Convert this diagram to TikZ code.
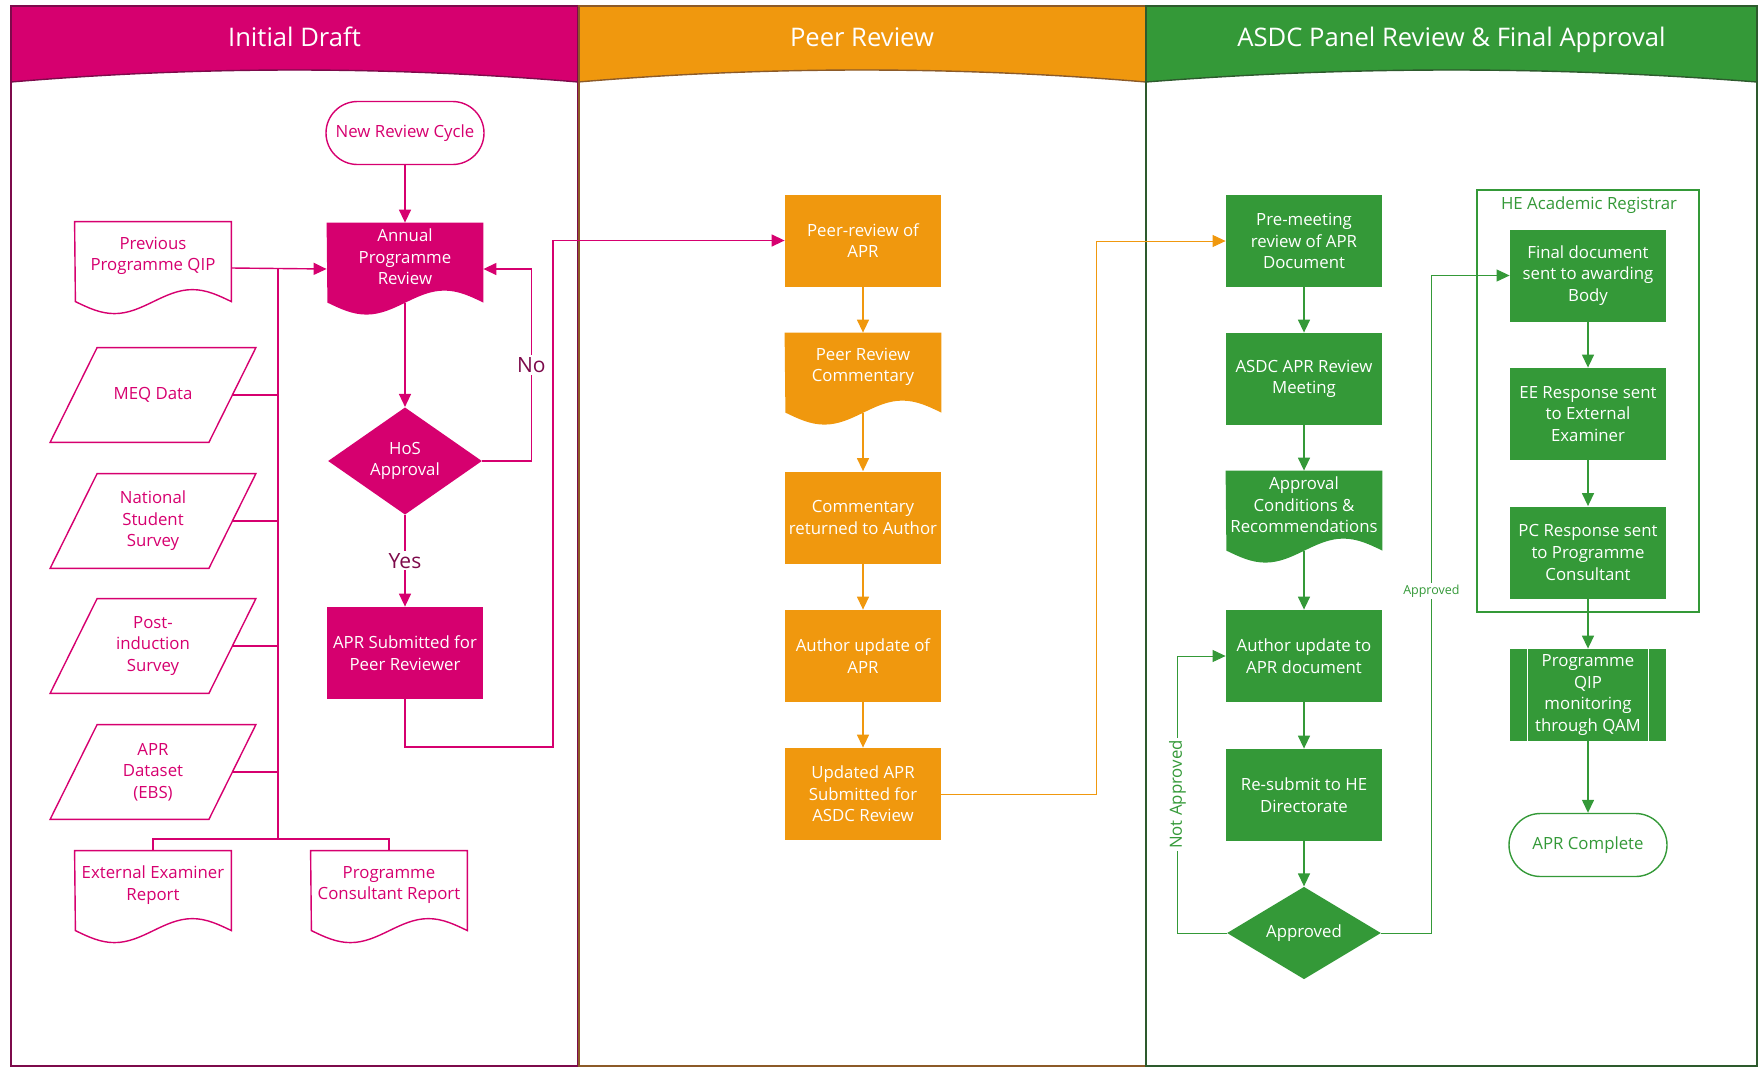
\documentclass[tikz,border=0pt]{standalone}
\usepackage{fontspec}
\setmainfont{Open Sans}
\usetikzlibrary{shapes.geometric,arrows.meta}
\pgfdeclarelayer{back}
\pgfsetlayers{back,main}
\definecolor{draftpink}{RGB}{214,0,111}
\definecolor{draftline}{RGB}{125,10,75}
\definecolor{peerorange}{RGB}{240,152,14}
\definecolor{peerline}{RGB}{140,90,40}
\definecolor{panelgreen}{RGB}{52,153,56}
\definecolor{panelline}{RGB}{45,90,45}
\newcommand{\docoutline}[2]{\path[#2] (#1.north west) -- (#1.north east) -- ++(0pt,-40pt) sin ++(-19.5pt,6pt) cos ++(-19.5pt,-6pt) sin ++(-19.5pt,-6pt) cos ++(-19.5pt,6pt) -- cycle;}
\newcommand{\dataoutline}[1]{\draw[draftpink, line width=0.7pt] ([xshift=11.75pt]#1.north west) -- ([xshift=11.75pt]#1.north east) -- ([xshift=-11.75pt]#1.south east) -- ([xshift=-11.75pt]#1.south west) -- cycle;}

\begin{document}
\begin{tikzpicture}[x=0.5pt, y=-0.5pt,
  every node/.style={font=\fontsize{8.4}{10.8}\selectfont, align=center},
  head/.style={text=white, anchor=base, font=\fontsize{12.8}{15}\selectfont},
  stepbox/.style={rectangle, minimum width=78pt, minimum height=46pt, inner xsep=1pt, inner ysep=1pt, text=white},
  docbox/.style={rectangle, minimum width=78pt, minimum height=34pt, inner xsep=1pt, inner ysep=0pt},
  endbox/.style={rectangle, rounded corners=15.75pt, minimum width=79pt, minimum height=31.5pt, line width=0.7pt},
  decide/.style={diamond, minimum width=77pt, minimum height=46pt, inner sep=0pt, text=white},
  databox/.style={rectangle, minimum width=79pt, minimum height=47pt, inner sep=1pt, text=draftpink},
  flow/.style={-{Triangle[length=6.5pt,width=6pt]}, line width=0.7pt},
  link/.style={line width=0.7pt},
  answer/.style={fill=white, inner sep=1pt, text=draftline, font=\fontsize{10.5}{12}\selectfont},
  remark/.style={fill=white, inner sep=1pt, text=panelgreen}]
\useasboundingbox (0,0) rectangle (1758,1067);

\fill[draftpink] (11,6) -- (578,6) -- (578,82) .. controls (389,66) and (200,66) .. (11,82) -- cycle;
\fill[peerorange] (578,6) -- (1146,6) -- (1146,82) .. controls (957,66) and (767,66) .. (578,82) -- cycle;
\fill[panelgreen] (1146,6) -- (1757,6) -- (1757,82) .. controls (1553,66) and (1350,66) .. (1146,82) -- cycle;
\draw[draftline, line width=0.7pt] (11,82) .. controls (200,66) and (389,66) .. (578,82);
\draw[peerline, line width=0.7pt] (578,82) .. controls (767,66) and (957,66) .. (1146,82);
\draw[panelline, line width=0.7pt] (1146,82) .. controls (1350,66) and (1553,66) .. (1757,82);
\draw[draftline, line width=0.8pt] (11,6) rectangle (578,1066);
\draw[peerline, line width=0.8pt] (579,6) rectangle (1146,1066);
\draw[panelline, line width=0.8pt] (1146,6) rectangle (1757,1066);
\node[head] (headdraft) at (294.5,46) {Initial Draft};
\node[head] (headpeer) at (862,46) {Peer Review};
\node[head] (headpanel) at (1451.5,46) {ASDC Panel Review \& Final Approval};

\node[endbox, draw=draftpink, text=draftpink] (newcycle) at (405,133) {New Review Cycle};
\node[docbox, text=white] (annual) at (405,257) {Annual\\Programme\\Review};
\node[docbox, text=draftpink] (prevqip) at (153,256) {Previous\\Programme QIP};
\node[databox] (meq) at (153,395) {MEQ Data};
\node[databox] (nss) at (153,521) {National\\Student\\Survey};
\node[databox] (pis) at (153,646) {Post-\\induction\\Survey};
\node[databox] (dataset) at (153,772) {APR\\Dataset\\(EBS)};
\node[docbox, text=draftpink] (eereport) at (153,885) {External Examiner\\Report};
\node[docbox, text=draftpink] (pcreport) at (389,885) {Programme\\Consultant Report};
\node[decide, fill=draftpink] (hos) at (405,461) {HoS\\Approval};
\node[stepbox, fill=draftpink] (submit) at (405,653) {APR Submitted for\\Peer Reviewer};
\foreach \src in {meq,nss,pis,dataset}
  {\dataoutline{\src}}

\node[stepbox, fill=peerorange] (peer) at (863,240.5) {Peer-review of\\APR};
\node[docbox, text=white] (prcomment) at (863,367) {Peer Review\\Commentary};
\node[stepbox, fill=peerorange] (returned) at (863,517.5) {Commentary\\returned to Author};
\node[stepbox, fill=peerorange] (authorupd) at (863,656) {Author update of\\APR};
\node[stepbox, fill=peerorange] (updated) at (863,794) {Updated APR\\Submitted for\\ASDC Review};

\node[stepbox, fill=panelgreen] (premeet) at (1304,241) {Pre-meeting\\review of APR\\Document};
\node[stepbox, fill=panelgreen] (meeting) at (1304,379) {ASDC APR Review\\Meeting};
\node[docbox, text=white] (conditions) at (1304,505) {Approval\\Conditions \&\\Recommendations};
\node[stepbox, fill=panelgreen] (authordoc) at (1304,656) {Author update to\\APR document};
\node[stepbox, fill=panelgreen] (resubmit) at (1304,795) {Re-submit to HE\\Directorate};
\node[decide, fill=panelgreen] (approved) at (1304,933) {Approved};
\node[draw=panelgreen, line width=0.7pt, minimum width=111pt, minimum height=211pt] (registrar) at (1588,401) {};
\node[text=panelgreen] (registrartitle) at (1589,205) {HE Academic Registrar};
\node[stepbox, fill=panelgreen] (finaldoc) at (1588,275.5) {Final document\\sent to awarding\\Body};
\node[stepbox, fill=panelgreen] (eeresp) at (1588,414) {EE Response sent\\to External\\Examiner};
\node[stepbox, fill=panelgreen] (pcresp) at (1588,552.5) {PC Response sent\\to Programme\\Consultant};
\node[stepbox, fill=panelgreen] (qipmon) at (1588,695) {Programme\\QIP\\monitoring\\through QAM};
\node[endbox, draw=panelgreen, text=panelgreen] (complete) at (1588,845) {APR Complete};
\draw[white, line width=0.8pt] ([xshift=9pt]qipmon.north west) -- ([xshift=9pt]qipmon.south west);
\draw[white, line width=0.8pt] ([xshift=-9pt]qipmon.north east) -- ([xshift=-9pt]qipmon.south east);

\begin{pgfonlayer}{back}
\docoutline{annual}{fill=draftpink}
\docoutline{prevqip}{draw=draftpink, line width=0.7pt}
\docoutline{eereport}{draw=draftpink, line width=0.7pt}
\docoutline{pcreport}{draw=draftpink, line width=0.7pt}
\docoutline{prcomment}{fill=peerorange}
\docoutline{conditions}{fill=panelgreen}
\end{pgfonlayer}

\coordinate (bustop) at (278,269);
\coordinate (busend) at (278,839);
\draw[flow, draftpink] (newcycle.south) -- (annual.north);
\draw[flow, draftpink] ([yshift=-6pt]annual.south) -- (hos.north);
\draw[flow, draftpink] (hos.south) -- node[answer]{Yes} (submit.north);
\draw[flow, draftpink] (hos.east) -- ++(49,0) |- node[pos=0.25, answer]{No} ([yshift=-6pt]annual.east);
\draw[flow, draftpink] ([yshift=-6pt]prevqip.east) -- ([yshift=-6pt]annual.west);
\draw[link, draftpink] (bustop) -- (busend);
\foreach \src in {meq,nss,pis,dataset}
  \draw[link, draftpink] (\src.east) -- (\src.east -| bustop);
\draw[link, draftpink] (eereport.north) |- (busend) -| (pcreport.north);
\draw[flow, draftpink] (submit.south) |- (553,747) |- (peer.west);

\draw[flow, peerorange] (peer.south) -- (prcomment.north);
\draw[flow, peerorange] ([yshift=-6pt]prcomment.south) -- (returned.north);
\draw[flow, peerorange] (returned.south) -- (authorupd.north);
\draw[flow, peerorange] (authorupd.south) -- (updated.north);
\draw[flow, peerorange, line width=0.5pt] (updated.east) -| (1096,241) -- (premeet.west);

\draw[flow, panelgreen] (premeet.south) -- (meeting.north);
\draw[flow, panelgreen] (meeting.south) -- (conditions.north);
\draw[flow, panelgreen] ([yshift=-6pt]conditions.south) -- (authordoc.north);
\draw[flow, panelgreen] (authordoc.south) -- (resubmit.north);
\draw[flow, panelgreen] (resubmit.south) -- (approved.north);
\draw[flow, panelgreen, line width=0.5pt] (approved.west) -- ++(-49,0) |- node[pos=0.25, remark, rotate=90]{Not Approved} (authordoc.west);
\draw[flow, panelgreen, line width=0.5pt] (approved.east) -- ++(50,0) |- node[pos=0.26, remark, font=\fontsize{6.25}{7}\selectfont]{Approved} (finaldoc.west);
\draw[flow, panelgreen] (finaldoc.south) -- (eeresp.north);
\draw[flow, panelgreen] (eeresp.south) -- (pcresp.north);
\draw[flow, panelgreen] (pcresp.south) -- (qipmon.north);
\draw[flow, panelgreen] (qipmon.south) -- (complete.north);
\end{tikzpicture}
\end{document}
